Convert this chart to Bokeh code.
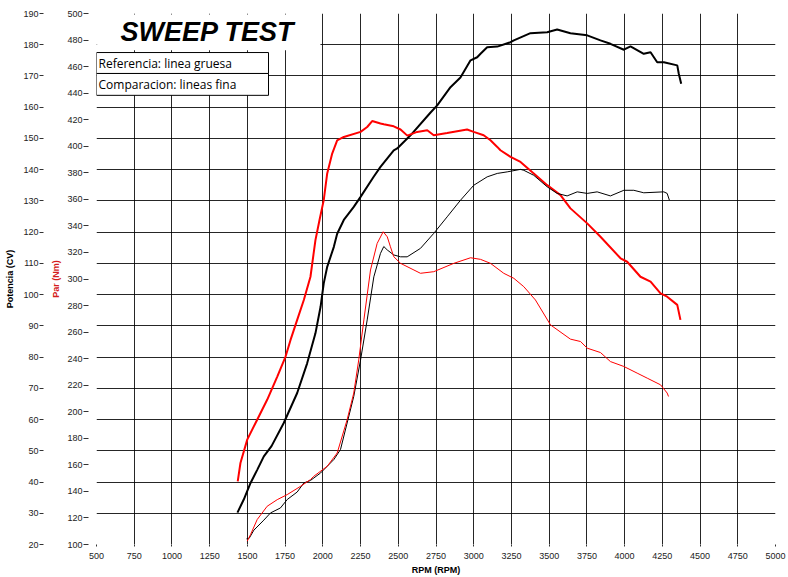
from bokeh.plotting import figure
from bokeh.models import Range1d, LinearAxis, FixedTicker, BoxAnnotation, Label
from bokeh.embed import file_html
from bokeh.resources import INLINE

# ---------------- data ----------------
RPM_TICKS = list(range(500, 5001, 250))
POWER_TICKS = list(range(20, 191, 10))
TORQUE_TICKS = list(range(100, 501, 20))

# Reference run (thick lines)
ref_power_rpm = [1434, 1476, 1521, 1565, 1609, 1660, 1741, 1830, 1896, 1951, 1985, 2006, 2029, 2073,
                 2095, 2139, 2205, 2250, 2338, 2382, 2470, 2493, 2581, 2714, 2758, 2846, 2912, 2979,
                 3023, 3045, 3089, 3156, 3244, 3266, 3376, 3487, 3553, 3641, 3752, 3840, 3906, 3995,
                 4039, 4127, 4172, 4216, 4260, 4349, 4359, 4375]
ref_power_cv = [30.2, 34.4, 39.7, 43.9, 48.2, 51.5, 58.9, 68.5, 78.0, 87.6, 96.1, 103.6, 108.9, 115.3,
                119.5, 123.9, 128.1, 131.3, 137.8, 140.9, 146.2, 146.8, 151.0, 158.3, 160.6, 166.4, 169.5, 175.0,
                176.0, 177.1, 179.2, 179.4, 180.8, 181.4, 183.7, 184.0, 184.9, 183.7, 183.0, 181.4, 180.3, 178.4,
                179.5, 177.1, 177.6, 174.4, 174.4, 173.4, 170.7, 167.5]

ref_torque_rpm = [1436, 1454, 1499, 1565, 1631, 1698, 1753, 1786, 1830, 1874, 1918, 1951, 1978, 2006,
                  2029, 2062, 2095, 2139, 2250, 2294, 2327, 2382, 2404, 2470, 2515, 2560, 2625, 2692,
                  2735, 2824, 2956, 3000, 3066, 3111, 3156, 3177, 3244, 3310, 3398, 3487, 3575, 3641,
                  3752, 3840, 3973, 4017, 4105, 4172, 4238, 4282, 4349, 4370]
ref_torque_nm = [147.6, 161.4, 179.0, 194.0, 209.0, 226.5, 241.6, 254.1, 269.2, 284.2, 301.7, 329.3, 344.4, 359.4,
                 379.5, 394.5, 404.5, 407.0, 410.8, 414.5, 419.0, 417.1, 416.5, 415.0, 412.6, 408.0, 410.8, 412.0,
                 408.3, 410.0, 412.6, 410.8, 408.3, 404.5, 399.5, 397.0, 392.0, 388.2, 379.5, 370.7, 363.2, 353.2,
                 341.9, 331.8, 315.6, 313.0, 301.7, 298.0, 289.2, 286.7, 280.5, 269.2]

# Comparison run (thin lines)
cmp_power_rpm = [1494, 1512, 1543, 1609, 1653, 1719, 1764, 1830, 1874, 1918, 1985, 2073, 2117, 2161,
                 2205, 2250, 2294, 2338, 2382, 2404, 2427, 2470, 2515, 2559, 2647, 2735, 2824, 2912,
                 3000, 3089, 3156, 3222, 3310, 3332, 3398, 3487, 3553, 3619, 3686, 3752, 3818, 3906,
                 3995, 4061, 4127, 4260, 4282, 4297]
cmp_power_cv = [21.8, 22.0, 24.6, 27.8, 30.1, 31.7, 34.4, 36.8, 39.7, 40.5, 42.9, 47.2, 50.4, 58.9,
                67.4, 79.1, 91.9, 105.7, 113.2, 115.4, 114.3, 112.7, 112.1, 112.1, 114.8, 119.6, 124.9, 130.2,
                135.0, 137.7, 138.8, 139.3, 140.1, 139.8, 138.2, 134.5, 132.4, 131.6, 132.9, 132.4, 132.9, 131.6,
                133.4, 133.4, 132.6, 132.9, 132.4, 130.2]

cmp_torque_rpm = [1499, 1521, 1565, 1631, 1698, 1764, 1852, 1918, 1940, 2029, 2095, 2161, 2205, 2238,
                  2272, 2316, 2360, 2400, 2427, 2448, 2470, 2515, 2647, 2735, 2868, 2979, 3045, 3111,
                  3199, 3266, 3332, 3409, 3509, 3641, 3708, 3752, 3840, 3906, 3995, 4083, 4150, 4238,
                  4282, 4291]
cmp_torque_nm = [102.5, 107.5, 118.8, 128.8, 133.8, 137.6, 143.8, 148.9, 151.4, 158.9, 168.9, 194.0, 214.1, 239.1,
                 269.2, 306.8, 326.8, 335.6, 331.8, 324.3, 316.8, 311.8, 304.3, 305.5, 311.8, 316.0, 314.8, 311.8,
                 304.3, 300.5, 294.2, 284.2, 265.4, 254.7, 252.9, 247.9, 244.6, 237.8, 234.1, 229.1, 225.3, 220.3,
                 214.1, 211.5]

TITLE = "SWEEP TEST"
LEGEND_ROWS = ["Referencia: linea gruesa", "Comparacion: lineas fina"]

# ---------------- figure ----------------
p = figure(width=788, height=577, output_backend="svg", toolbar_location=None,
           x_range=Range1d(500, 5000), y_range=Range1d(20, 190),
           min_border_left=96, min_border_right=13, min_border_top=13, min_border_bottom=0,
           background_fill_color="white", border_fill_color="white")
p.outline_line_color = None
p.extra_y_ranges = {"torque": Range1d(100, 500)}

TICK_FONT = "Liberation Sans"
TICK_COLOR = "#222222"

xa = p.xaxis[0]
xa.ticker = FixedTicker(ticks=RPM_TICKS)
xa.axis_label = "RPM (RPM)"
xa.axis_label_text_font = TICK_FONT
xa.axis_label_text_font_size = "9px"
xa.axis_label_text_font_style = "bold"
xa.axis_label_text_color = "black"
xa.axis_label_standoff = 3
xa.major_label_text_font = TICK_FONT
xa.major_label_text_font_size = "9px"
xa.major_label_text_color = TICK_COLOR
xa.major_label_standoff = 6
xa.major_tick_in = 0
xa.major_tick_out = 2
xa.minor_tick_out = 0
xa.minor_tick_in = 0
xa.axis_line_color = None
xa.major_tick_line_color = "#333333"

power_axis = p.yaxis[0]
power_axis.ticker = FixedTicker(ticks=POWER_TICKS)
power_axis.axis_label = "Potencia (CV)"
torque_axis = LinearAxis(y_range_name="torque", ticker=FixedTicker(ticks=TORQUE_TICKS))
torque_axis.axis_label = "Par (Nm)"

for ax, col in ((power_axis, "black"), (torque_axis, "#d41c1c")):
    ax.axis_label_text_font = TICK_FONT
    ax.axis_label_text_font_size = "9px"
    ax.axis_label_text_font_style = "bold"
    ax.axis_label_text_color = col
    ax.major_label_text_font = TICK_FONT
    ax.major_label_text_font_size = "9px"
    ax.major_label_text_color = TICK_COLOR
    ax.major_label_standoff = 1
    ax.minor_tick_in = 0
    ax.minor_tick_out = 0
    ax.axis_line_color = None
    ax.major_tick_line_color = "#333333"

torque_axis.major_tick_in = -8
torque_axis.major_tick_out = 13
torque_axis.axis_label_standoff = 3
power_axis.major_tick_in = -5
power_axis.major_tick_out = 9
power_axis.axis_label_standoff = 5

p.left = [torque_axis, power_axis]

for g in (p.xgrid[0], p.ygrid[0]):
    g.grid_line_color = "black"
    g.grid_line_width = 1
    g.grid_line_alpha = 0.85

# ---------------- curves ----------------
p.line(ref_power_rpm, ref_power_cv, line_color="black", line_width=2)
p.line(ref_torque_rpm, ref_torque_nm, line_color="#ff0000", line_width=2, y_range_name="torque")
p.line(cmp_power_rpm, cmp_power_cv, line_color="black", line_width=1)
p.line(cmp_torque_rpm, cmp_torque_nm, line_color="#ff0000", line_width=1, y_range_name="torque")

# ---------------- title box & legend ----------------
p.add_layout(BoxAnnotation(left=504, right=1984, bottom=178.2, top=189.7,
                           fill_color="white", fill_alpha=1.0, line_color=None))
p.add_layout(Label(x=500, y=184.0, x_offset=24, text=TITLE, text_font="Liberation Sans",
                   text_font_size="27px", text_font_style="bold italic", text_color="black",
                   text_baseline="alphabetic"))

legend_rows_y = [(177.5, 170.8), (170.8, 163.8)]
for (top, bottom), txt in zip(legend_rows_y, LEGEND_ROWS):
    p.add_layout(BoxAnnotation(left=500, right=1640, top=top, bottom=bottom,
                               fill_color="white", fill_alpha=1.0,
                               line_color="black", line_width=1, line_alpha=1.0))
    p.add_layout(Label(x=500, y=(top + bottom) / 2, x_offset=2, text=txt,
                       text_font="Open Sans", text_font_size="12px", text_color="black",
                       text_baseline="middle"))

open("out.html", "w").write(file_html(p, INLINE))
